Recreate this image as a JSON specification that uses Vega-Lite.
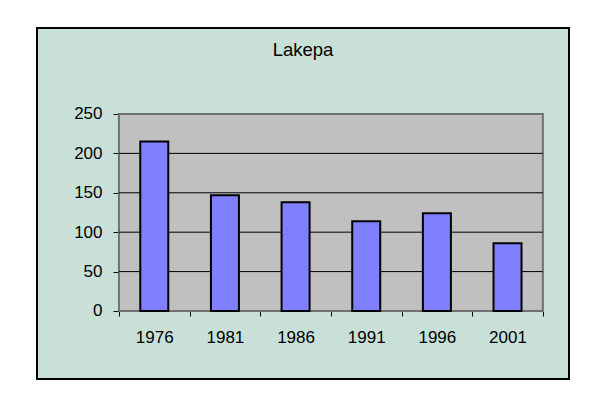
{
  "$schema": "https://vega.github.io/schema/vega-lite/v6.json",
  "width": 532,
  "height": 351,
  "autosize": {"type": "none"},
  "padding": {"left": 37, "top": 28, "right": 36, "bottom": 23},
  "background": "white",
  "title": {"text": "Lakepa", "frame": "group", "anchor": "middle", "orient": "top", "offset": -31, "baseline": "top", "fontSize": 18.5, "font": "Liberation Sans", "fontWeight": "normal", "color": "black"},
  "config": {
    "view": {"fill": "#C8E0D8", "stroke": "black", "strokeWidth": 2},
    "font": "Liberation Sans"
  },
  "data": {"values": [
    {"year": 1976, "value": 215},
    {"year": 1981, "value": 147},
    {"year": 1986, "value": 138},
    {"year": 1991, "value": 114},
    {"year": 1996, "value": 124},
    {"year": 2001, "value": 86}
  ]},
  "layer": [
    {
      "data": {"values": [{"area": "plot"}]},
      "mark": {"type": "rect", "fill": "#C0C0C0", "stroke": "#707070", "strokeWidth": 2},
      "encoding": {
        "x": {
          "datum": 1973.5, "type": "quantitative",
          "scale": {"domain": [1967.7, 2005.35], "nice": false, "zero": false, "padding": 0},
          "axis": {
            "orient": "bottom", "offset": -68,
            "values": [1973.5, 1978.5, 1983.5, 1988.5, 1993.5, 1998.5, 2003.5],
            "labelExpr": "datum.value < 2003 ? format(datum.value + 2.5, 'd') : ''",
            "labelOffset": 35.3,
            "domain": false, "grid": false,
            "tickSize": 5, "tickColor": "black", "tickWidth": 1,
            "labelPadding": 13, "labelFontSize": 17, "labelColor": "black",
            "labelFont": "Liberation Sans",
            "labelFlush": false, "labelOverlap": false, "title": null
          }
        },
        "x2": {"datum": 2003.5},
        "y": {
          "datum": 0, "type": "quantitative",
          "scale": {"domain": [-86.3, 359.1], "nice": false, "zero": false, "padding": 0},
          "axis": {
            "orient": "left", "offset": -82,
            "values": [0, 50, 100, 150, 200, 250],
            "format": "d",
            "domain": false, "grid": false,
            "tickSize": 6, "tickColor": "black", "tickWidth": 1,
            "labelPadding": 11, "labelFontSize": 17, "labelColor": "black",
            "labelFont": "Liberation Sans",
            "labelFlush": false, "labelOverlap": false, "title": null
          }
        },
        "y2": {"datum": 250}
      }
    },
    {
      "data": {"values": [{"g": 50}, {"g": 100}, {"g": 150}, {"g": 200}]},
      "mark": {"type": "rule", "color": "black", "strokeWidth": 1},
      "encoding": {
        "x": {"datum": 1973.5, "type": "quantitative"},
        "x2": {"datum": 2003.5},
        "y": {"field": "g", "type": "quantitative"}
      }
    },
    {
      "mark": {"type": "bar", "width": 28, "fill": "#8080FF", "stroke": "black", "strokeWidth": 2},
      "encoding": {
        "x": {"field": "year", "type": "quantitative"},
        "y": {"field": "value", "type": "quantitative"},
        "y2": {"datum": 0}
      }
    }
  ]
}
